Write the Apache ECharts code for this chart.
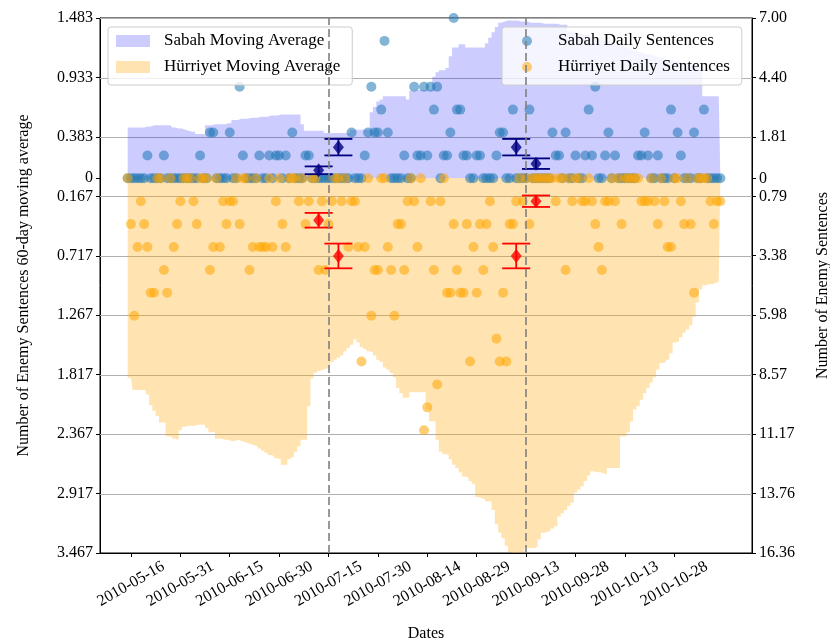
<!DOCTYPE html>
<html>
<head>
<meta charset="utf-8">
<script src="https://cdn.jsdelivr.net/npm/echarts@6/dist/echarts.min.js"></script>
<style>
  html, body { margin: 0; padding: 0; background: #fff; }
  #chart { width: 830px; height: 643px; }
</style>
</head>
<body>
<div id="chart"></div>
<script>
// ========== 数据 ==========
// 第 0 天 = 2010-05-15，之后每天一个值
const startDate = "2010-05-15";

const sabahDaily = [
  0, 0, 0, 0, 0, 0, 1, 0, 0, 0,
  0, 1, 0, 0, 0, 0, 0, 0, 0, 0,
  0, 0, 1, 0, 0, 2, 2, 0, 0, 0,
  0, 2, 0, 0, 4, 1, 0, 0, 0, 0,
  1, 0, 0, 1, 0, 1, 1, 0, 1, 0,
  2, 0, 0, 0, 1, 1, 0, 0, 0, 0,
  0, 0, 0, 0, 0, 0, 0, 0, 2, 0,
  0, 0, 1, 2, 4, 2, 2, 3, 6, 2,
  0, 0, 0, 0, 1, 0, 0, 4, 1, 1,
  4, 1, 4, 3, 4, 0, 1, 1, 2, 7,
  3, 3, 1, 1, 0, 0, 1, 1, 0, 0,
  0, 0, 1, 2, 2, 0, 0, 3, 0, 0,
  0, 0, 3, 0, 0, 0, 0, 0, 0, 2,
  1, 1, 0, 2, 0, 0, 1, 0, 0, 1,
  3, 1, 4, 0, 0, 1, 2, 0, 1, 0,
  0, 0, 0, 0, 0, 1, 1, 2, 1, 0,
  0, 1, 0, 0, 0, 3, 0, 2, 1, 0,
  0, 0, 2, 0, 0, 3, 0, 0, 0, 0,
  0,
];

const hurriyetDaily = [
  0, 2, 6, 3, 1, 2, 3, 5, 5, 0,
  0, 4, 5, 0, 3, 2, 1, 0, 0, 0,
  1, 2, 0, 0, 0, 4, 3, 0, 3, 1,
  2, 1, 1, 0, 2, 0, 0, 4, 3, 0,
  3, 3, 3, 0, 3, 1, 0, 2, 3, 0,
  0, 0, 1, 0, 2, 1, 0, 0, 4, 1,
  4, 2, 1, 0, 0, 1, 0, 3, 1, 1,
  3, 8, 3, 0, 6, 4, 4, 0, 0, 3,
  4, 6, 2, 2, 4, 1, 0, 1, 3, 0,
  11, 10, 1, 4, 9, 1, 0, 5, 5, 2,
  4, 5, 5, 2, 8, 3, 5, 2, 4, 2,
  1, 3, 7, 8, 5, 8, 2, 2, 1, 0,
  1, 0, 2, 0, 0, 0, 0, 0, 0, 0,
  1, 0, 0, 4, 0, 1, 0, 0, 1, 1,
  0, 1, 2, 3, 4, 1, 1, 0, 1, 0,
  2, 0, 0, 0, 0, 0, 1, 1, 1, 0,
  1, 2, 0, 1, 3, 3, 0, 0, 1, 2,
  0, 2, 5, 0, 0, 0, 0, 1, 2, 1,
  1,
];

const sabahMA = [
  0.47, 0.47, 0.47, 0.47, 0.47, 0.47, 0.48, 0.48, 0.49, 0.49,
  0.49, 0.49, 0.49, 0.49, 0.47, 0.46, 0.46, 0.45, 0.44, 0.43,
  0.43, 0.41, 0.41, 0.41, 0.49, 0.49, 0.5, 0.5, 0.5, 0.5,
  0.51, 0.51, 0.54, 0.54, 0.55, 0.55, 0.55, 0.56, 0.56, 0.56,
  0.57, 0.57, 0.57, 0.58, 0.58, 0.58, 0.59, 0.59, 0.59, 0.59,
  0.59, 0.59, 0.59, 0.5, 0.44, 0.44, 0.44, 0.44, 0.44, 0.44,
  0.42, 0.42, 0.42, 0.42, 0.42, 0.42, 0.42, 0.42, 0.45, 0.45,
  0.45, 0.45, 0.45, 0.45, 0.61, 0.66, 0.71, 0.73, 0.76, 0.76,
  0.76, 0.76, 0.76, 0.76, 0.76, 0.73, 0.81, 0.81, 0.82, 0.82,
  0.82, 0.82, 0.82, 0.94, 0.98, 1.0, 1.0, 1.02, 1.13, 1.21,
  1.21, 1.24, 1.24, 1.21, 1.21, 1.21, 1.21, 1.21, 1.21, 1.25,
  1.3, 1.35, 1.4, 1.44, 1.45, 1.46, 1.46, 1.46, 1.46, 1.45,
  1.45, 1.45, 1.44, 1.44, 1.44, 1.44, 1.43, 1.43, 1.43, 1.43,
  1.43, 1.42, 1.42, 1.42, 1.36, 1.35, 1.35, 1.34, 1.33, 1.33,
  1.32, 1.3, 1.29, 1.28, 1.28, 1.27, 1.26, 1.25, 1.24, 1.23,
  1.22, 1.21, 1.2, 1.19, 1.18, 1.17, 1.16, 1.15, 1.15, 1.14,
  1.13, 1.12, 1.11, 1.1, 1.1, 1.09, 1.08, 1.08, 1.07, 1.06,
  1.06, 1.05, 1.05, 1.04, 1.04, 0.76, 0.76, 0.76, 0.76, 0.76,
  0.76,
];

// 绘制在零线以下，这里记录的是绝对值
const hurriyetMA = [
  1.85, 1.85, 1.96, 1.96, 1.96, 1.96, 2.0, 2.1, 2.15, 2.2,
  2.26, 2.26, 2.39, 2.39, 2.41, 2.42, 2.33, 2.3, 2.29, 2.29,
  2.29, 2.28, 2.28, 2.28, 2.31, 2.35, 2.35, 2.41, 2.41, 2.42,
  2.42, 2.43, 2.43, 2.42, 2.43, 2.44, 2.45, 2.46, 2.47, 2.48,
  2.5, 2.52, 2.54, 2.56, 2.57, 2.59, 2.6, 2.65, 2.65, 2.6,
  2.58, 2.53, 2.48, 2.42, 2.42, 2.11, 1.85, 1.8, 1.78, 1.77,
  1.76, 1.76, 1.7, 1.68, 1.66, 1.64, 1.6, 1.57, 1.54, 1.49,
  1.52, 1.56, 1.58, 1.6, 1.61, 1.64, 1.68, 1.7, 1.75, 1.77,
  1.8, 1.84, 1.94, 1.99, 2.03, 2.03, 1.98, 1.98, 1.98, 1.98,
  1.98, 2.14, 2.25, 2.25, 2.42, 2.53, 2.55, 2.56, 2.6, 2.65,
  2.68, 2.72, 2.76, 2.77, 2.8, 2.83, 2.95, 2.96, 2.97, 2.99,
  2.99, 3.07, 3.2, 3.28, 3.33, 3.4, 3.46, 3.47, 3.47, 3.46,
  3.47, 3.42, 3.42, 3.42, 3.41, 3.34, 3.28, 3.27, 3.26, 3.24,
  3.22, 3.13, 3.1, 3.07, 3.03, 3.0, 2.91, 2.88, 2.85, 2.8,
  2.75, 2.71, 2.72, 2.72, 2.73, 2.74, 2.68, 2.68, 2.68, 2.68,
  2.39, 2.39, 2.35, 2.25, 2.14, 2.11, 2.05, 1.99, 1.94, 1.89,
  1.84, 1.77, 1.71, 1.7, 1.68, 1.62, 1.52, 1.51, 1.47, 1.43,
  1.4, 1.36, 1.28, 1.15, 1.03, 0.99, 0.98, 0.98, 0.97, 0.96,
  0.94,
];

// 事件前后各 3 天的均值 ± 误差
const eventDates = ["2010-07-15", "2010-09-13"];
const errDates = ["2010-07-12", "2010-07-18", "2010-09-10", "2010-09-16"];
const sabahErrMean = [0.35, 1.36, 1.36, 0.64];
const sabahErrSize = [0.17, 0.36, 0.36, 0.23];
const hurriyetErrMean = [1.83, 3.39, 3.39, 1.0];
const hurriyetErrSize = [0.32, 0.54, 0.54, 0.25];

// 刻度
const xTickLabels = [
  "2010-05-16", "2010-05-31", "2010-06-15", "2010-06-30",
  "2010-07-15", "2010-07-30", "2010-08-14", "2010-08-29",
  "2010-09-13", "2010-09-28", "2010-10-13", "2010-10-28",
];
const leftTickValues = [-3.467, -2.917, -2.367, -1.817, -1.267, -0.717, -0.167, 0, 0.383, 0.933, 1.483];
const leftTickLabels = ["3.467", "2.917", "2.367", "1.817", "1.267", "0.717", "0.167", "0", "0.383", "0.933", "1.483"];
const rightTickValues = [-16.36, -13.76, -11.17, -8.57, -5.98, -3.38, -0.79, 0, 1.81, 4.4, 7.0];
const rightTickLabels = ["16.36", "13.76", "11.17", "8.57", "5.98", "3.38", "0.79", "0", "1.81", "4.40", "7.00"];

// ========== 工具 ==========
function dayIndex(str) {
  const p = (s) => s.split("-").map(Number);
  const [y, m, d] = p(str);
  const [y0, m0, d0] = p(startDate);
  return (Date.UTC(y, m - 1, d) - Date.UTC(y0, m0 - 1, d0)) / 86400000;
}

function labelFor(values, labels) {
  return (v) => {
    let best = 0;
    values.forEach((t, i) => {
      if (Math.abs(t - v) < Math.abs(values[best] - v)) best = i;
    });
    return labels[best];
  };
}

function renderErrorBar(params, api) {
  const x = api.value(0);
  const top = api.coord([x, api.value(2)]);
  const bottom = api.coord([x, api.value(1)]);
  const half = 14;
  const style = { stroke: api.visual("color"), lineWidth: 1.8 };
  return {
    type: "group",
    children: [
      { type: "line", shape: { x1: top[0], y1: top[1], x2: bottom[0], y2: bottom[1] }, style },
      { type: "line", shape: { x1: top[0] - half, y1: top[1], x2: top[0] + half, y2: top[1] }, style },
      { type: "line", shape: { x1: bottom[0] - half, y1: bottom[1], x2: bottom[0] + half, y2: bottom[1] }, style },
    ],
  };
}

// ========== 图表 ==========
const FONT = "Liberation Serif";
const chart = echarts.init(document.getElementById("chart"));
const xTickDays = xTickLabels.map(dayIndex);
const errDays = errDates.map(dayIndex);

const legendBox = {
  orient: "vertical",
  top: 27,
  itemWidth: 34,
  itemGap: 6,
  backgroundColor: "rgba(255,255,255,0.8)",
  borderColor: "#cccccc",
  borderWidth: 1,
  borderRadius: 3,
  selectedMode: false,
  textStyle: { fontFamily: FONT, fontSize: 17, lineHeight: 20, color: "#000", padding: [0, 0, 0, 9] },
};

chart.setOption({
  animation: false,
  textStyle: { fontFamily: FONT },
  grid: {
    left: 100, right: 78, top: 18, bottom: 90,
    outerBoundsMode: "none",
    show: true, borderColor: "#000", borderWidth: 1,
  },
  legend: [
    Object.assign({}, legendBox, {
      left: 108,
      itemHeight: 12,
      padding: [4, 12, 8, 8],
      data: [
        { name: "Sabah Moving Average", icon: "rect", itemStyle: { color: "rgba(0,0,255,0.2)", borderWidth: 0 } },
        { name: "Hürriyet Moving Average", icon: "rect", itemStyle: { color: "rgba(255,165,0,0.3)", borderWidth: 0 } },
      ],
    }),
    Object.assign({}, legendBox, {
      left: 502,
      itemHeight: 10,
      padding: [4, 12, 8, 20],
      data: [
        { name: "Sabah Daily Sentences", icon: "circle", itemStyle: { color: "#1f77b4", opacity: 0.55, borderWidth: 0 } },
        { name: "Hürriyet Daily Sentences", icon: "circle", itemStyle: { color: "#ffa500", opacity: 0.55, borderWidth: 0 } },
      ],
    }),
  ],
  xAxis: {
    type: "value",
    min: -8.4,
    max: 189.6,
    name: "Dates",
    nameLocation: "middle",
    nameGap: 73,
    nameTextStyle: { fontSize: 16, color: "#000" },
    axisLine: { onZero: false, lineStyle: { color: "#000" } },
    axisTick: { customValues: xTickDays, length: 4, lineStyle: { color: "#000" } },
    axisLabel: {
      customValues: xTickDays,
      formatter: labelFor(xTickDays, xTickLabels),
      rotate: 30,
      align: "center",
      verticalAlign: "middle",
      margin: 31,
      fontSize: 16,
      color: "#000",
    },
    splitLine: { show: false },
  },
  yAxis: [
    {
      type: "value",
      position: "left",
      min: -3.467,
      max: 1.483,
      name: "Number of Enemy Sentences 60-day moving average",
      nameLocation: "middle",
      nameGap: 68,
      nameRotate: 90,
      nameTextStyle: { fontSize: 16, color: "#000" },
      axisLine: { show: true, onZero: false, lineStyle: { color: "#000" } },
      axisTick: { show: true, customValues: leftTickValues, length: 4, lineStyle: { color: "#000" } },
      axisLabel: { customValues: leftTickValues, formatter: labelFor(leftTickValues, leftTickLabels), fontSize: 16, color: "#000", margin: 7 },
      splitLine: { show: false },
    },
    {
      type: "value",
      position: "right",
      min: -16.36,
      max: 7.0,
      name: "Number of Enemy Sentences",
      nameLocation: "middle",
      nameGap: 63,
      nameRotate: 90,
      nameTextStyle: { fontSize: 16, color: "#000" },
      axisLine: { show: true, onZero: false, lineStyle: { color: "#000" } },
      axisTick: { show: true, customValues: rightTickValues, length: 4, lineStyle: { color: "#000" } },
      axisLabel: { customValues: rightTickValues, formatter: labelFor(rightTickValues, rightTickLabels), fontSize: 16, color: "#000", margin: 7 },
      splitLine: { show: false },
    },
  ],
  series: [
    {
      // 网格线（0 处无网格线）
      type: "line",
      yAxisIndex: 0,
      data: [],
      silent: true,
      markLine: {
        silent: true,
        symbol: "none",
        z: 1,
        label: { show: false },
        lineStyle: { color: "#b0b0b0", width: 1, type: "solid" },
        data: leftTickValues.filter((v) => v !== 0).map((v) => ({ yAxis: v })),
      },
    },
    {
      name: "Sabah Moving Average",
      type: "line",
      yAxisIndex: 0,
      data: sabahMA.map((v, i) => [i, v]),
      step: "middle",
      showSymbol: false,
      silent: true,
      color: "rgba(0,0,255,0.2)",
      lineStyle: { width: 0 },
      areaStyle: { color: "rgba(0,0,255,0.2)", opacity: 1 },
      z: 2,
    },
    {
      name: "Hürriyet Moving Average",
      type: "line",
      yAxisIndex: 0,
      data: hurriyetMA.map((v, i) => [i, -v]),
      step: "middle",
      showSymbol: false,
      silent: true,
      color: "rgba(255,165,0,0.3)",
      lineStyle: { width: 0 },
      areaStyle: { color: "rgba(255,165,0,0.3)", opacity: 1 },
      z: 2,
    },
    {
      name: "Sabah Daily Sentences",
      type: "scatter",
      yAxisIndex: 1,
      data: sabahDaily.map((v, i) => [i, v]),
      symbolSize: 10,
      itemStyle: { color: "#1f77b4", opacity: 0.55 },
      z: 3,
    },
    {
      name: "Hürriyet Daily Sentences",
      type: "scatter",
      yAxisIndex: 1,
      data: hurriyetDaily.map((v, i) => [i, -v]),
      symbolSize: 10,
      itemStyle: { color: "#ffa500", opacity: 0.55 },
      z: 3,
    },
    {
      type: "custom",
      yAxisIndex: 1,
      renderItem: renderErrorBar,
      itemStyle: { color: "navy" },
      data: errDays.map((d, i) => [d, sabahErrMean[i] - sabahErrSize[i], sabahErrMean[i] + sabahErrSize[i]]),
      z: 5,
    },
    {
      type: "custom",
      yAxisIndex: 1,
      renderItem: renderErrorBar,
      itemStyle: { color: "red" },
      data: errDays.map((d, i) => [d, -(hurriyetErrMean[i] + hurriyetErrSize[i]), -(hurriyetErrMean[i] - hurriyetErrSize[i])]),
      z: 5,
    },
    {
      type: "scatter",
      yAxisIndex: 1,
      symbol: "diamond",
      symbolSize: [11, 14],
      itemStyle: { color: "navy" },
      data: errDays.map((d, i) => [d, sabahErrMean[i]]),
      z: 6,
    },
    {
      type: "scatter",
      yAxisIndex: 1,
      symbol: "diamond",
      symbolSize: [11, 14],
      itemStyle: { color: "red" },
      data: errDays.map((d, i) => [d, -hurriyetErrMean[i]]),
      z: 6,
    },
    {
      // 事件日期虚线
      type: "line",
      yAxisIndex: 0,
      data: [],
      silent: true,
      markLine: {
        silent: true,
        symbol: "none",
        z: 7,
        label: { show: false },
        lineStyle: { color: "#808080", width: 1.6, type: [8, 4] },
        data: eventDates.map((s) => ({ xAxis: dayIndex(s) })),
      },
    },
  ],
});

window.addEventListener("resize", () => chart.resize());
</script>
</body>
</html>
